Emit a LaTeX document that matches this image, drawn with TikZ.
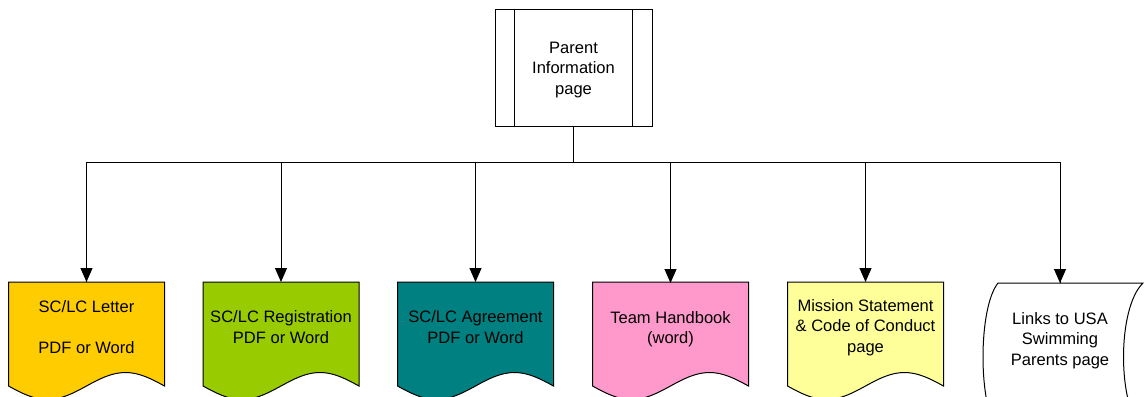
\documentclass[tikz,border=0pt]{standalone}
\usepackage{fontspec}
\setmainfont{Liberation Sans}
\usetikzlibrary{arrows.meta,calc}

\definecolor{letterfill}{HTML}{FFCC00}
\definecolor{regfill}{HTML}{99CC00}
\definecolor{agreefill}{HTML}{008080}
\definecolor{handfill}{HTML}{FF99CC}
\definecolor{missionfill}{HTML}{FFFF99}

% document shape: flat top, wavy bottom (wave mid-line 104 units below the top)
\newcommand\DocShape[3]{% centre x, top y, fill colour
  \filldraw[shapeline, fill=#3]
    (#1-78,#2) -- (#1+78,#2) -- (#1+78,#2+104)
    sin ++(-39,-13.5) cos ++(-39,13.5) sin ++(-39,13.5) cos ++(-39,-13.5) -- cycle;
}

\begin{document}
\begin{tikzpicture}[x=0.75pt, y=-0.75pt,
  shapeline/.style={draw=black, line width=0.75pt},
  link/.style={draw=black, line width=0.75pt},
  drop/.style={link, -{Triangle[length=10.5pt, width=9pt]}},
  txt/.style={align=center, font=\fontsize{12.4}{15.4}\selectfont, text=black, inner sep=0pt},
  lbl/.style={txt, minimum width=117pt, minimum height=67.5pt, anchor=north},
]
\useasboundingbox (0,0) rectangle (1145,396);
\clip (0,0) rectangle (1145,396);

% top page box with inner side bars
\node[shapeline, fill=white, minimum width=117.75pt, minimum height=87.75pt, inner sep=0pt]
  (parent) at (573.5,67.5) {};
\draw[shapeline] (514,9) -- (514,126);
\draw[shapeline] (632,9) -- (632,126);
\node[txt] (parenttext) at (573.5,70) {Parent\\Information\\page};

% document shapes
\DocShape{86.5}{282}{letterfill}
\DocShape{281}{282}{regfill}
\DocShape{475.5}{282}{agreefill}
\DocShape{670.5}{282}{handfill}
\DocShape{865.5}{282}{missionfill}

% stored-data shape
\filldraw[shapeline, fill=white]
  (998,283) -- (1143,283) .. controls (1117,308) and (1117,406) .. (1143,431)
  -- (998,431) .. controls (978,406) and (978,308) .. (998,283) -- cycle;

% labels
\node[lbl] (letter) at (86.5,282) {SC/LC Letter\\[15.4pt]PDF or Word};
\node[lbl] (reg) at (281,282) {SC/LC Registration\\PDF or Word};
\node[lbl] (agree) at (475.5,282) {SC/LC Agreement\\PDF or Word};
\node[lbl, minimum height=69pt] (hand) at (670.5,283) {Team Handbook\\(word)};
\node[lbl, minimum height=68pt] (mission) at (865.5,282) {Mission Statement\\\& Code of Conduct\\page};
\node[lbl, minimum height=86pt] (links) at (1060,283) {Links to USA\\Swimming\\Parents page};

% connectors
\coordinate (hub) at (573.5,162);
\draw[link] (parent.south) -- (hub);
\draw[link] (hub) -| (letter.north);
\draw[link] (hub) -| (links.north);
\foreach \n in {letter,reg,agree,hand,mission,links}
  \draw[drop] (\n.north |- hub) -- (\n.north);
\end{tikzpicture}
\end{document}
